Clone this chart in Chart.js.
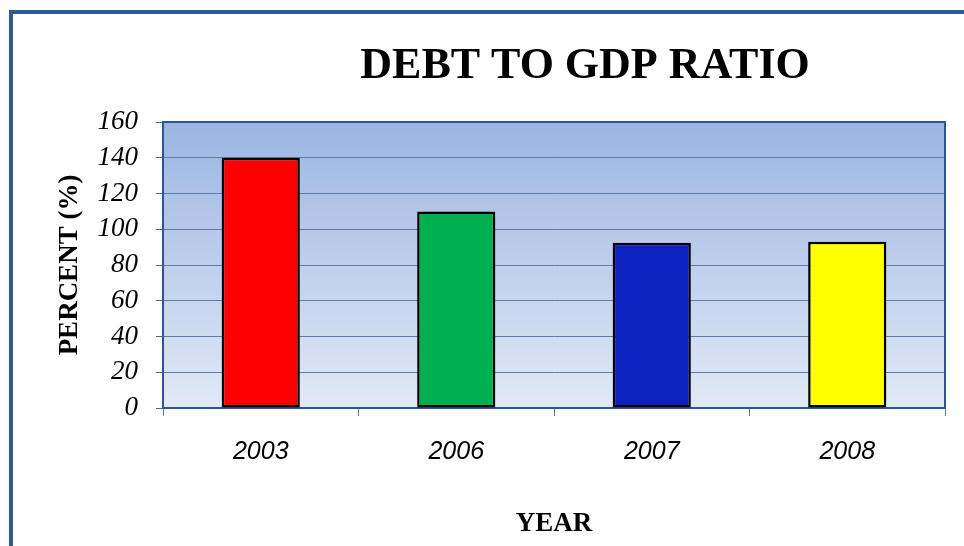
<!DOCTYPE html>
<html>
<head>
<meta charset="utf-8">
<script src="https://cdn.jsdelivr.net/npm/chart.js@4.4.1/dist/chart.umd.min.js"></script>
<style>
  body { margin: 0; background: #fff; }
</style>
</head>
<body>
<canvas id="chart" width="964" height="546"></canvas>
<script>
// values
var years = ['2003', '2006', '2007', '2008'];
var debtRatio = [140, 110, 92.5, 93];
var barColors = ['#ff0000', '#00b050', '#0b21c0', '#ffff00'];
var yMin = 0, yMax = 160, yStep = 20;
var chartTitle = 'DEBT TO GDP RATIO';
var yTitle = 'PERCENT (%)';
var xTitle = 'YEAR';

// background gradient, plot frame, title and outer border
var decor = {
  id: 'decor',
  beforeDraw: function (chart) {
    var ctx = chart.ctx, a = chart.chartArea;
    ctx.save();
    ctx.fillStyle = '#fff';
    ctx.fillRect(0, 0, chart.width, chart.height);
    var g = ctx.createLinearGradient(0, a.top, 0, a.bottom);
    g.addColorStop(0, '#9bb5e3');
    g.addColorStop(1, '#e2e9f5');
    ctx.fillStyle = g;
    ctx.fillRect(a.left, a.top, a.right - a.left, a.bottom - a.top);
    ctx.restore();
  },
  afterDraw: function (chart) {
    var ctx = chart.ctx, a = chart.chartArea;
    ctx.save();
    ctx.strokeStyle = '#2b568f';
    ctx.lineWidth = 2;
    ctx.beginPath();
    ctx.moveTo(a.left, a.top);
    ctx.lineTo(a.right, a.top);
    ctx.lineTo(a.right, a.bottom);
    ctx.stroke();

    ctx.fillStyle = '#000';
    ctx.font = 'bold 44px "Liberation Serif"';
    ctx.textAlign = 'center';
    ctx.textBaseline = 'alphabetic';
    ctx.fillText(chartTitle, 585, 78);

    ctx.strokeStyle = '#2e5b95';
    ctx.lineWidth = 4;
    ctx.strokeRect(11, 12, 2000, 2000);
    ctx.restore();
  }
};

var ctx = document.getElementById('chart').getContext('2d');
var chart = new Chart(ctx, {
  type: 'bar',
  data: {
    labels: years,
    datasets: [{
      label: 'Debt to GDP',
      data: debtRatio,
      backgroundColor: barColors,
      borderColor: '#000',
      borderWidth: 2.5,
      borderSkipped: false,
      barPercentage: 0.4,
      categoryPercentage: 1
    }]
  },
  options: {
    responsive: false,
    devicePixelRatio: 1,
    animation: false,
    layout: { padding: { top: 122, right: 19, left: 0, bottom: 0 } },
    plugins: {
      legend: { display: false },
      tooltip: { enabled: false },
      title: { display: false }
    },
    scales: {
      x: {
        afterFit: function (s) { s.height = 138; },
        grid: {
          offset: true,
          drawOnChartArea: false,
          drawTicks: true,
          tickLength: 8,
          color: '#5a7cab'
        },
        border: { color: '#2b568f', width: 2 },
        ticks: {
          padding: 21,
          color: '#000',
          font: { family: '"Liberation Sans"', style: 'italic', size: 25 }
        },
        title: {
          display: true,
          text: xTitle,
          color: '#000',
          padding: { top: 0, bottom: 6 },
          font: { family: '"Liberation Serif"', weight: 'bold', size: 27 }
        }
      },
      y: {
        min: yMin,
        max: yMax,
        afterFit: function (s) { s.width = 163; },
        ticks: {
          stepSize: yStep,
          padding: 18,
          color: '#000',
          font: { family: '"Liberation Serif"', style: 'italic', size: 27 }
        },
        grid: {
          color: '#5d7ba6',
          lineWidth: 1,
          drawTicks: true,
          tickLength: 7,
          tickColor: '#4a6a9a'
        },
        border: { color: '#2b568f', width: 2 },
        title: {
          display: true,
          text: yTitle,
          color: '#000',
          padding: { top: 54, bottom: 0 },
          font: { family: '"Liberation Serif"', weight: 'bold', size: 27 }
        }
      }
    }
  },
  plugins: [decor]
});
</script>
</body>
</html>
